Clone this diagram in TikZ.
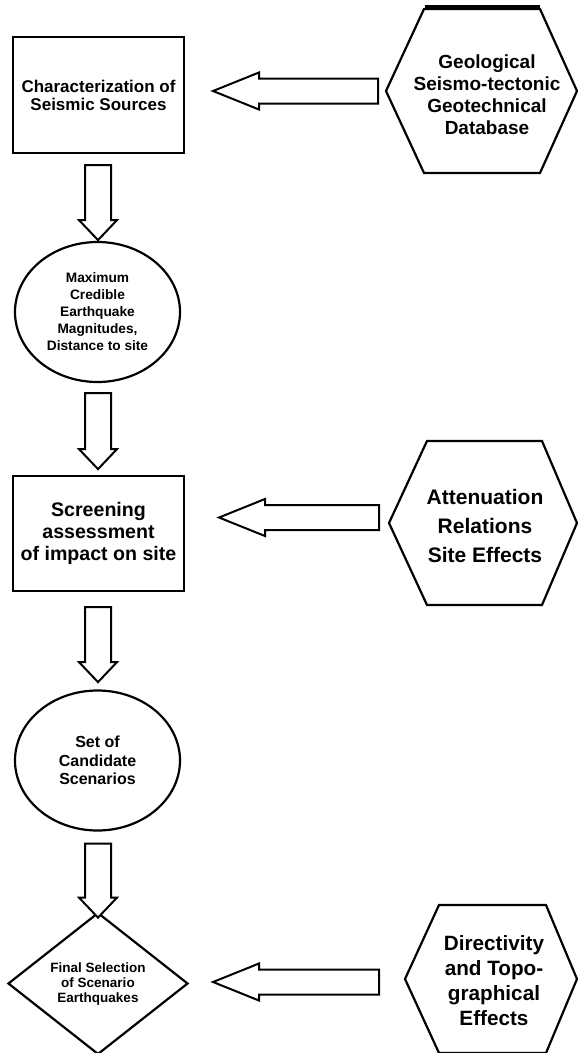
\documentclass[tikz,border=0pt]{standalone}
\usepackage{fontspec}
\setmainfont{Liberation Sans}
\usetikzlibrary{shapes.geometric,calc}
\tikzset{
 shapeline/.style={draw=black, line width=2.2pt, line join=miter},
 boxnode/.style={shapeline, rectangle, minimum width=171pt, minimum height=116pt, align=center, inner sep=0pt},
 ellnode/.style={shapeline, ellipse, minimum width=165pt, minimum height=140pt, align=center, inner sep=0pt},
 dianode/.style={shapeline, diamond, minimum width=180pt, minimum height=123pt, align=center, inner sep=1pt},
 hexlabel/.style={align=center, inner sep=0pt},
 arrowline/.style={draw=black, line width=2pt, fill=white, line join=miter},
}
% #1 = coordinate of the shaft's free end (right), #2 = total length
\newcommand\hblockarrow[2]{%
 \draw[arrowline] ($(#1)+(0,-12.5)$) -- ++(-#2+46,0) -- ++(0,-6) -- ++(-46,18.5)
   -- ++(46,18.5) -- ++(0,-6) -- ($(#1)+(0,12.5)$) -- cycle;}
% #1 = coordinate of the shaft's top centre, #2 = total length
\newcommand\vblockarrow[2]{%
 \draw[arrowline] ($(#1)+(-13,0)$) -- ++(0,#2-20) -- ++(-6,0) -- ++(19,20)
   -- ++(19,-20) -- ++(-6,0) -- ($(#1)+(13,0)$) -- cycle;}
% hexagon: #1 centre, #2 half width (vertex), #3 half top edge left, #4 half top edge right, #5 half height
\newcommand\hexoutline[5]{%
 \draw[shapeline] ($(#1)+(-#2,0)$) -- ($(#1)+(-#3,-#5)$) -- ($(#1)+(#4,-#5)$)
   -- ($(#1)+(#2,0)$) -- ($(#1)+(#4,#5)$) -- ($(#1)+(-#3,#5)$) -- cycle;}

\begin{document}
\begin{tikzpicture}[x=1pt,y=-1pt]
\useasboundingbox[fill=white] (0,0) rectangle (578,1053);

% left column
\node[boxnode, font=\fontsize{17}{18}\selectfont\bfseries] (box1) at (98.5,95)
  {Characterization of\\Seismic Sources};
\node[ellnode, font=\fontsize{13.7}{17}\selectfont\bfseries] (ell1) at (97.5,312)
  {Maximum\\Credible\\Earthquake\\Magnitudes,\\Distance to site};
\node[boxnode, minimum height=115pt, font=\fontsize{19.6}{22}\selectfont\bfseries] (box2) at (98.5,533.5)
  {Screening\\assessment\\of impact on site};
\node[ellnode, font=\fontsize{16}{18.5}\selectfont\bfseries] (ell2) at (97.5,760.5)
  {Set of\\Candidate\\Scenarios};
\node[dianode, font=\fontsize{13.5}{15}\selectfont\bfseries] (dia) at (98,983.5)
  {Final Selection\\of Scenario\\Earthquakes};

% hexagons (right column)
\coordinate (h1) at (481.5,91);
\hexoutline{h1}{95.5}{57.5}{58.5}{82}
\draw[line width=4.5pt] ($(h1)+(-57,-83.5)$) -- ($(h1)+(58,-83.5)$);
\node[hexlabel, font=\fontsize{19}{22}\selectfont\bfseries] (h1t) at (487,95)
  {Geological\\Seismo-tectonic\\Geotechnical\\Database};

\coordinate (h2) at (483,523);
\hexoutline{h2}{94}{56}{59}{82}
\node[hexlabel, font=\fontsize{21}{29}\selectfont\bfseries] (h2t) at (485,526)
  {Attenuation\\Relations\\Site Effects};

\coordinate (h3) at (491,979);
\hexoutline{h3}{86}{52}{55}{74}
\node[hexlabel, font=\fontsize{20.7}{25}\selectfont\bfseries] (h3t) at (494,980.5)
  {Directivity\\and Topo-\\graphical\\Effects};

% vertical block arrows
\coordinate (v1) at ($(box1.south)+(-0.5,11)$);
\vblockarrow{v1}{75}
\coordinate (v2) at ($(ell1.south)+(0.5,10)$);
\vblockarrow{v2}{76}
\coordinate (v3) at ($(box2.south)+(-0.5,15)$);
\vblockarrow{v3}{75}
\coordinate (v4) at ($(ell2.south)+(0.5,12)$);
\vblockarrow{v4}{74}

% horizontal block arrows
\coordinate (a1) at ($(h1)+(-103.5,0)$);
\hblockarrow{a1}{165}
\coordinate (a2) at ($(h2)+(-104,-5.5)$);
\hblockarrow{a2}{160}
\coordinate (a3) at ($(h3)+(-112,3)$);
\hblockarrow{a3}{166}
\end{tikzpicture}
\end{document}
